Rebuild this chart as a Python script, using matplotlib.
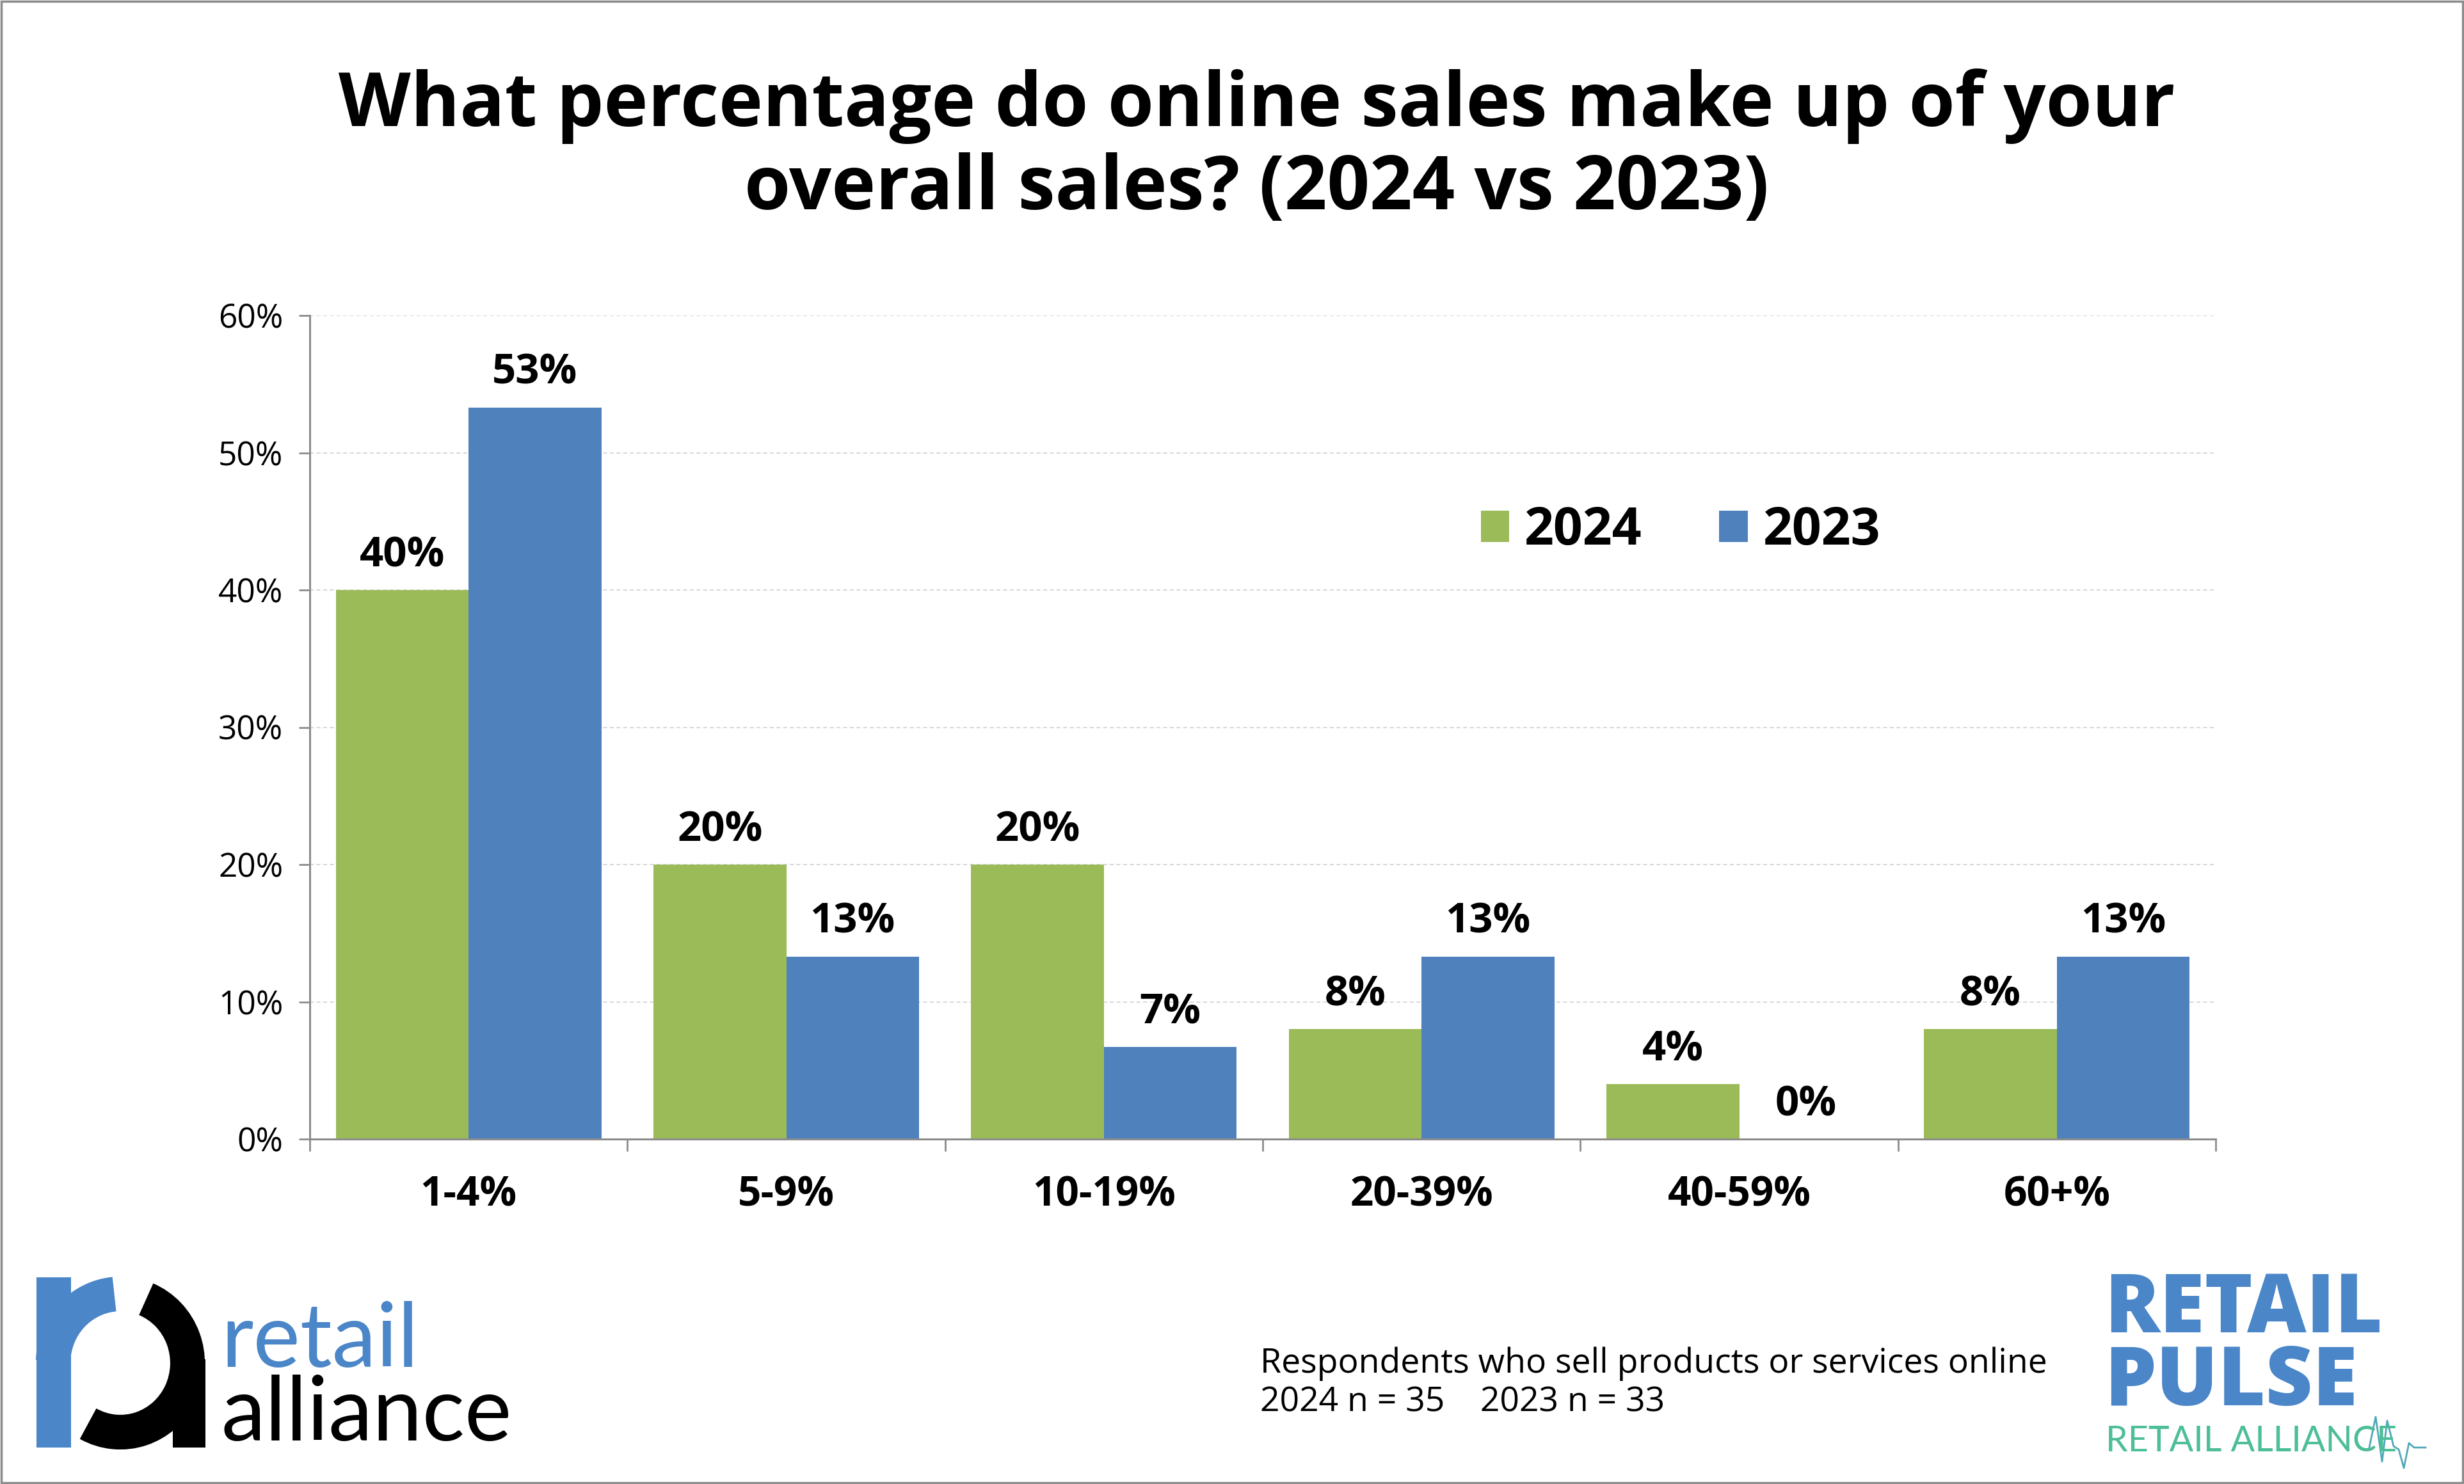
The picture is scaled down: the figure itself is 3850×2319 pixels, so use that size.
import matplotlib
matplotlib.use("Agg")
import matplotlib.pyplot as plt
from matplotlib.patches import Rectangle, Arc
from matplotlib.lines import Line2D
import numpy as np

plt.rcParams['font.family'] = ['Open Sans', 'DejaVu Sans']

# data
categories = ['1-4%', '5-9%', '10-19%', '20-39%', '40-59%', '60+%']
share_2024 = [40.0, 20.0, 20.0, 8.0, 4.0, 8.0]
share_2023 = [53.3, 13.3, 6.7, 13.3, 0.0, 13.3]
series_names = ['2024', '2023']
y_ticks = [0, 10, 20, 30, 40, 50, 60]

GREEN = '#9BBB59'
BLUE = '#4F81BD'
GRID = '#D9D9D9'
AXIS = '#8C8C8C'

W, H = 3850, 2319
fig = plt.figure(figsize=(W / 100, H / 100), dpi=100)

# main chart
ax = fig.add_axes([484 / W, 1 - 1780 / H, (3462 - 484) / W, (1780 - 493) / H])
x = np.arange(len(categories))
bw = 0.418
b1 = ax.bar(x - bw / 2, share_2024, bw, color=GREEN, label=series_names[0], zorder=3)
b2 = ax.bar(x + bw / 2, share_2023, bw, color=BLUE, label=series_names[1], zorder=3)

for bars in (b1, b2):
    ax.bar_label(bars, labels=['{:.0f}%'.format(v) for v in bars.datavalues],
                 padding=15, fontsize=47, fontweight='bold', color='black')

ax.set_xlim(-0.5, len(categories) - 0.5)
ax.set_ylim(0, 60)
ax.set_yticks(y_ticks)
ax.set_yticklabels(['{}%'.format(t) for t in y_ticks], fontsize=37)
ax.set_xticks(x)
ax.set_xticklabels(categories, fontsize=46, fontweight='bold')
ax.set_xticks(np.arange(-0.5, len(categories)), minor=True)
ax.tick_params(axis='x', which='major', length=0, pad=40)
ax.tick_params(axis='x', which='minor', length=14, width=2, color=AXIS, direction='out')
ax.tick_params(axis='y', length=12, width=2, color=AXIS, pad=18)

ax.yaxis.grid(True, color=GRID, linestyle=(0, (3, 2)), linewidth=1.5, zorder=0)
for s in ['top', 'right']:
    ax.spines[s].set_visible(False)
for s in ['left', 'bottom']:
    ax.spines[s].set_color(AXIS)
    ax.spines[s].set_linewidth(2.2)
ax.spines['bottom'].set_zorder(4)

ax.legend(loc='center left', bbox_to_anchor=(0.590, 0.738), ncol=2, frameon=False,
          prop={'size': 58, 'weight': 'bold'}, handlelength=0.55, handleheight=0.55,
          handletextpad=0.3, columnspacing=1.5)

fig.text(0.51, 1 - 231 / H,
         'What percentage do online sales make up of your\noverall sales? (2024 vs 2023)',
         ha='center', va='center', fontsize=84, fontweight='bold', linespacing=1.15)

fig.text(1969 / W, 1 - 2131 / H, 'Respondents who sell products or services online',
         ha='left', va='center', fontsize=38.5)
fig.text(1969 / W, 1 - 2192 / H, '2024 n = 35    2023 n = 33',
         ha='left', va='center', fontsize=38.5)

# overlay in pixel coordinates for logos and border
ov = fig.add_axes([0, 0, 1, 1], zorder=5)
ov.set_xlim(0, W)
ov.set_ylim(0, H)
ov.axis('off')
ov.patch.set_alpha(0)

ov.add_patch(Rectangle((2, 2), W - 4, H - 4, fill=False, edgecolor='#8C8C8C', linewidth=2.5))

# retail alliance logo (left)
LOGO_BLUE = '#4A86C8'
ov.add_patch(Rectangle((57, 57), 54, 266, color=LOGO_BLUE, linewidth=0))
ov.add_patch(Arc((188, 189), 210, 216, theta1=95, theta2=178, color=LOGO_BLUE, linewidth=39))
ov.add_patch(Arc((188, 189), 210, 216, theta1=-118, theta2=68, color='black', linewidth=39))
ov.add_patch(Rectangle((270, 57), 51, 138, color='black', linewidth=0))
ov.text(345, H - 2136, 'retail', color=LOGO_BLUE, fontsize=100, family='Lato',
        fontweight='normal', ha='left', va='baseline')
ov.text(345, H - 2251, 'alliance', color='black', fontsize=100, family='Lato',
        fontweight='normal', ha='left', va='baseline')

# retail pulse logo (right)
ov.text(3288, H - 2196, 'RETAIL\nPULSE', color=LOGO_BLUE, fontsize=92, fontweight='heavy',
        ha='left', va='baseline', linespacing=0.86)
ov.text(3290, H - 2268, 'RETAIL ALLIANCE', color='#4DBE98', fontsize=40, family='Lato',
        fontweight='normal', ha='left', va='baseline')
px = [3702, 3712, 3722, 3730, 3740, 3748, 3756, 3764, 3772, 3790]
py = [2262, 2214, 2284, 2220, 2260, 2265, 2294, 2255, 2262, 2262]
ov.add_line(Line2D(px, [H - v for v in py], color='#4FA8B8', linewidth=2))

fig.savefig('out.png', dpi=100)
